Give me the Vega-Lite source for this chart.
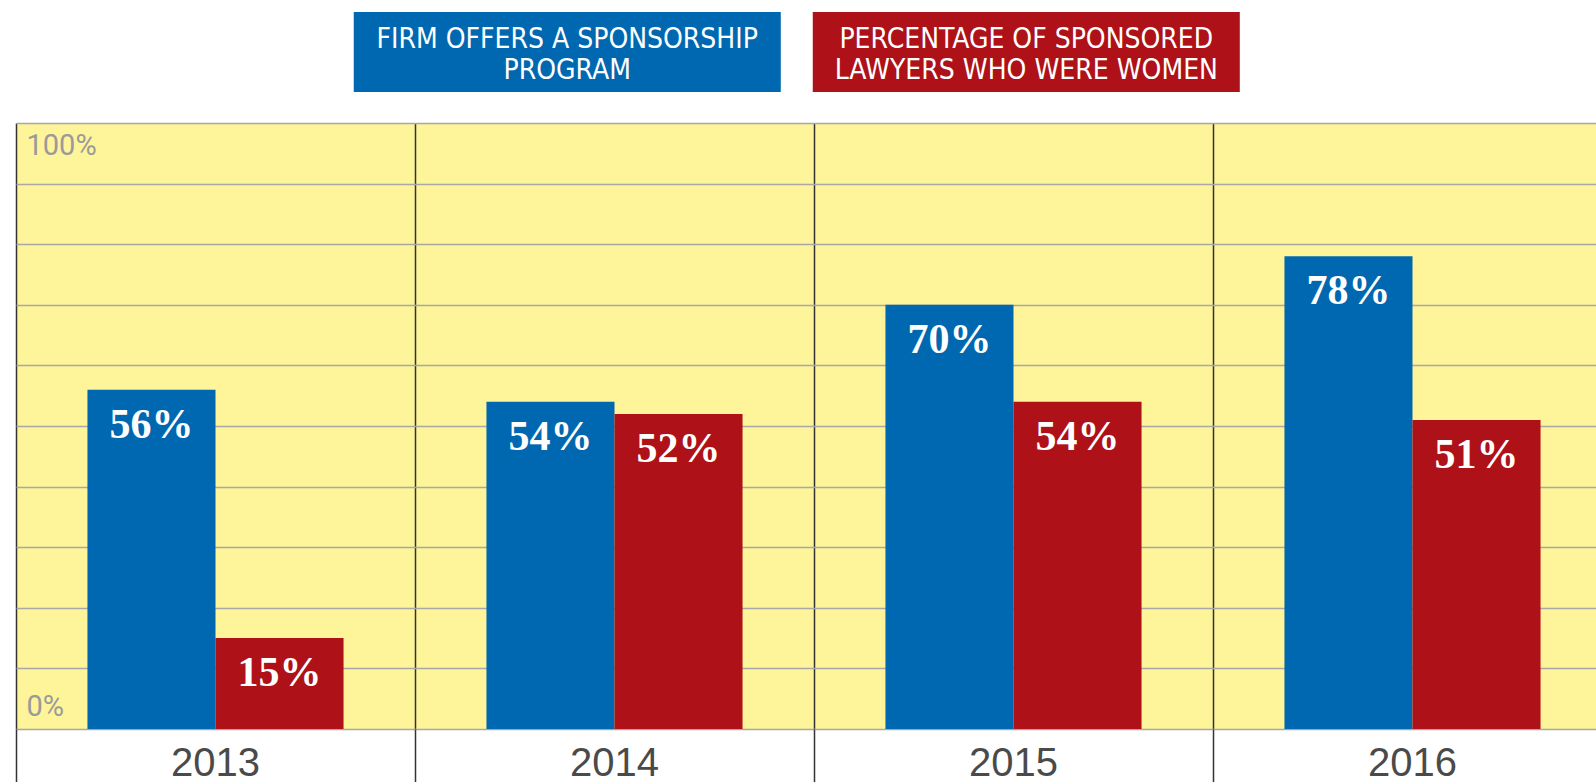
{
  "$schema": "https://vega.github.io/schema/vega-lite/v6.json",
  "padding": {"left": 15, "top": 12, "right": 0, "bottom": 0},
  "background": "white",
  "spacing": 31,
  "config": {"view": {"stroke": null}},
  "vconcat": [
    {
      "width": 1581,
      "height": 80,
      "data": {"values": [
        {"series": "Firm offers a sponsorship program", "label": "FIRM OFFERS A SPONSORSHIP\nPROGRAM"},
        {"series": "Percentage of sponsored lawyers who were women", "label": "PERCENTAGE OF SPONSORED\nLAWYERS WHO WERE WOMEN"}
      ]},
      "layer": [
        {
          "mark": {"type": "rect"},
          "encoding": {
            "x": {"field": "series", "type": "nominal", "axis": null,
                  "scale": {"paddingInner": 0.0697, "paddingOuter": 0.757, "align": 0.486}},
            "color": {"field": "series", "type": "nominal", "legend": null,
                      "scale": {"domain": ["Firm offers a sponsorship program", "Percentage of sponsored lawyers who were women"],
                                "range": ["#0068b1", "#ae1117"]}}
          }
        },
        {
          "mark": {"type": "text", "color": "white", "font": "DejaVu Sans Condensed", "fontSize": 28,
                   "lineBreak": "\n", "lineHeight": 31, "baseline": "middle", "align": "center", "dy": -12},
          "encoding": {
            "x": {"field": "series", "type": "nominal"},
            "text": {"field": "label"}
          }
        }
      ]
    },
    {
      "width": 1581,
      "height": 606,
      "view": {"fill": "#fef49a", "stroke": null},
      "data": {"values": [
        {"year": "2013", "series": "Firm offers a sponsorship program", "value": 0.56},
        {"year": "2013", "series": "Percentage of sponsored lawyers who were women", "value": 0.15},
        {"year": "2014", "series": "Firm offers a sponsorship program", "value": 0.54},
        {"year": "2014", "series": "Percentage of sponsored lawyers who were women", "value": 0.52},
        {"year": "2015", "series": "Firm offers a sponsorship program", "value": 0.70},
        {"year": "2015", "series": "Percentage of sponsored lawyers who were women", "value": 0.54},
        {"year": "2016", "series": "Firm offers a sponsorship program", "value": 0.78},
        {"year": "2016", "series": "Percentage of sponsored lawyers who were women", "value": 0.51}
      ]},
      "encoding": {
        "x": {"field": "year", "type": "ordinal",
              "scale": {"range": [0, 1596], "paddingInner": 0, "paddingOuter": 0},
              "axis": {"title": null, "bandPosition": 0, "grid": true, "gridColor": "#333333", "gridWidth": 1.5,
                       "ticks": true, "tickSize": 53, "tickColor": "#333333", "tickWidth": 1.5, "domain": false,
                       "labelOffset": 0, "labelPadding": -7, "labelBaseline": "alphabetic", "labelAngle": 0,
                       "labelFontSize": 40, "labelColor": "#4a4a4a", "labelFont": "Liberation Sans"}},
        "xOffset": {"field": "series", "type": "nominal", "scale": {"paddingInner": 0, "paddingOuter": 0.558}},
        "y": {"field": "value", "type": "quantitative",
              "scale": {"domain": [0, 1], "nice": false},
              "axis": {"title": null, "values": [0, 0.1, 0.2, 0.3, 0.4, 0.5, 0.6, 0.7, 0.8, 0.9, 1],
                       "format": ".0%", "labelExpr": "datum.value == 0 || datum.value == 1 ? datum.label : ''",
                       "grid": true, "gridColor": "#a8a8a8", "gridWidth": 1.5, "ticks": false, "domain": false,
                       "labelAlign": "left", "labelPadding": -10, "labelFlush": true, "labelFlushOffset": -8,
                       "labelFontSize": 29, "labelColor": "#9a9a9a", "labelFont": "Roboto"}}
      },
      "layer": [
        {
          "mark": {"type": "bar"},
          "encoding": {
            "color": {"field": "series", "type": "nominal", "legend": null}
          }
        },
        {
          "mark": {"type": "text", "color": "white", "font": "Liberation Serif", "fontWeight": "bold",
                   "fontSize": 42, "baseline": "alphabetic", "align": "center", "dy": 48},
          "encoding": {
            "text": {"field": "value", "type": "quantitative", "format": ".0%"}
          }
        }
      ]
    }
  ]
}
